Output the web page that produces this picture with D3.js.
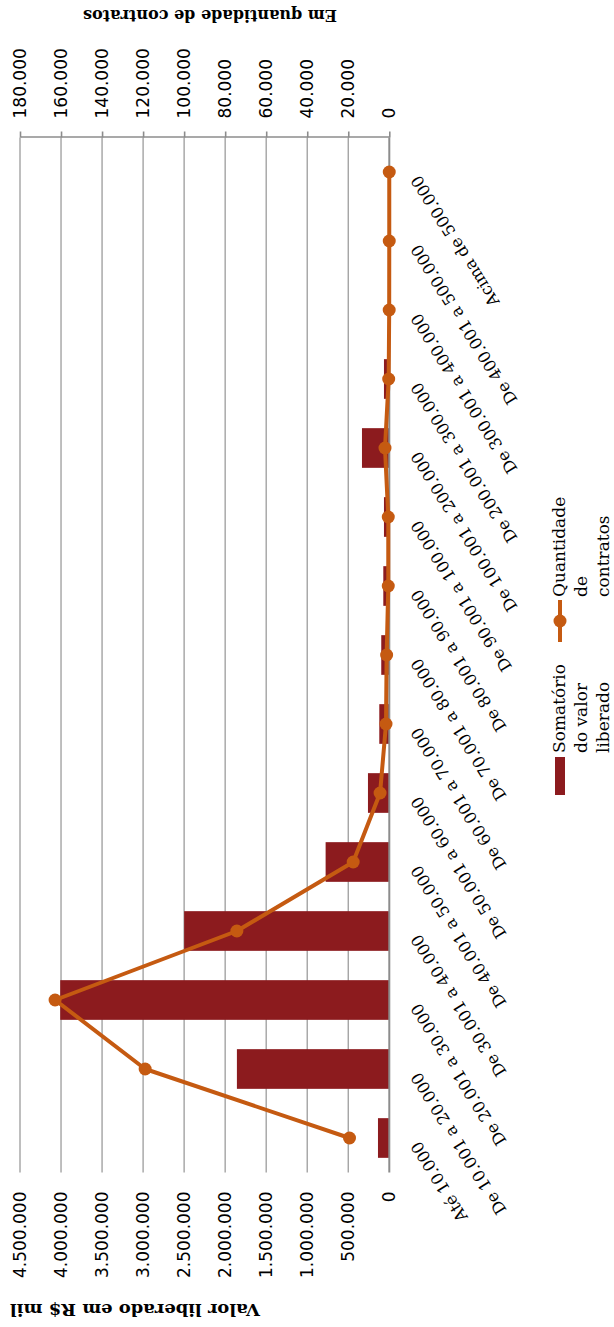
<!DOCTYPE html>
<html><head><meta charset="utf-8">
<script src="https://cdn.jsdelivr.net/npm/d3@7"></script>
<style>html,body{margin:0;padding:0;background:#fff;}svg{display:block;}</style>
</head><body>
<script>
const categories = ["Até 10.000","De 10.001 a 20.000","De 20.001 a 30.000","De 30.001 a 40.000","De 40.001 a 50.000","De 50.001 a 60.000","De 60.001 a 70.000","De 70.001 a 80.000","De 80.001 a 90.000","De 90.001 a 100.000","De 100.001 a 200.000","De 200.001 a 300.000","De 300.001 a 400.000","De 400.001 a 500.000","Acima de 500.000"];
const valorLiberado = [138000,1857000,4010000,2500000,776000,260000,122000,98000,73000,65000,333000,65000,3000,2000,3000];
const quantidadeContratos = [19400,119000,162900,74300,17600,4500,1600,1300,500,500,2100,300,50,20,20];
const leftTickValues = [0,500000,1000000,1500000,2000000,2500000,3000000,3500000,4000000,4500000];
const leftTickLabels = ["0","500.000","1.000.000","1.500.000","2.000.000","2.500.000","3.000.000","3.500.000","4.000.000","4.500.000"];
const rightTickValues = [0,20000,40000,60000,80000,100000,120000,140000,160000,180000];
const rightTickLabels = ["0","20.000","40.000","60.000","80.000","100.000","120.000","140.000","160.000","180.000"];
const seriesNames = ["Somatório do valor liberado","Quantidade de contratos"];
const leftTitle = "Valor liberado em R$ mil";
const rightTitle = "Em quantidade de contratos";

const W = 614, H = 1327;
// chart is laid out landscape (H wide, W tall) then rotated -90deg
const LW = H, LH = W;
const plot = {left:154.5, right:1189.5, top:20, bottom:389.3};
const barColor = "#8c1b1e", lineColor = "#c55a11";
const sans = "'DejaVu Sans', Arial, sans-serif";
const serif = "Georgia, 'DejaVu Serif', serif";

const svg = d3.select("body").append("svg").attr("width",W).attr("height",H);
const g = svg.append("g").attr("transform",`translate(0,${H}) rotate(-90)`);

const x = d3.scaleBand().domain(categories).range([plot.left,plot.right]).paddingInner(0.425).paddingOuter(0.2125);
const yL = d3.scaleLinear().domain([0,4500000]).range([plot.bottom,plot.top]);
const yR = d3.scaleLinear().domain([0,180000]).range([plot.bottom,plot.top]);
const cx = c => x(c) + x.bandwidth()/2;

// gridlines
g.append("g").selectAll("line").data(leftTickValues.filter(v=>v>0)).join("line")
  .attr("x1",plot.left).attr("x2",plot.right)
  .attr("y1",d=>yL(d)).attr("y2",d=>yL(d))
  .attr("stroke","#a3a3a3").attr("stroke-width",1.4);

// bars
g.append("g").selectAll("rect").data(categories).join("rect")
  .attr("x",c=>x(c)).attr("width",x.bandwidth())
  .attr("y",(c,i)=>yL(valorLiberado[i]))
  .attr("height",(c,i)=>yL(0)-yL(valorLiberado[i]))
  .attr("fill",barColor);

// category axis line
g.append("line").attr("x1",plot.left).attr("x2",plot.right)
  .attr("y1",yL(0)).attr("y2",yL(0)).attr("stroke","#8c8c8c").attr("stroke-width",2);

// left axis (value)
const axL = g.append("g").attr("transform",`translate(${plot.left},0)`)
  .call(d3.axisLeft(yL).tickValues(leftTickValues).tickFormat((d,i)=>leftTickLabels[i]).tickSize(0).tickPadding(19));
axL.select(".domain").remove();
axL.selectAll("text").attr("font-family",sans).attr("font-size",17).attr("fill","#000");

// right axis (quantity)
const axR = g.append("g").attr("transform",`translate(${plot.right},0)`)
  .call(d3.axisRight(yR).tickValues(rightTickValues).tickFormat((d,i)=>rightTickLabels[i]).tickSizeInner(6).tickSizeOuter(0).tickPadding(13));
axR.select(".domain").attr("stroke","#8c8c8c").attr("stroke-width",1.6);
axR.selectAll("line").attr("stroke","#8c8c8c").attr("stroke-width",1.6);
axR.selectAll("text").attr("font-family",sans).attr("font-size",17).attr("fill","#000");

// category labels
g.append("g").selectAll("text").data(categories).join("text")
  .attr("transform",c=>`translate(${cx(c)-2},420) rotate(-32)`)
  .attr("text-anchor","end").attr("font-family",serif).attr("font-size",16.5).attr("fill","#000")
  .text(c=>c);

// line + markers
const line = d3.line().x((d,i)=>cx(categories[i])).y(d=>yR(d));
g.append("path").datum(quantidadeContratos).attr("d",line)
  .attr("fill","none").attr("stroke",lineColor).attr("stroke-width",4).attr("stroke-linejoin","round");
g.append("g").selectAll("circle").data(quantidadeContratos).join("circle")
  .attr("cx",(d,i)=>cx(categories[i])).attr("cy",d=>yR(d)).attr("r",6.5).attr("fill",lineColor);

// axis titles
g.append("text").attr("transform","translate(23,135) rotate(-90)").attr("text-anchor","middle")
  .attr("font-family",serif).attr("font-weight","bold").attr("font-size",16)
  .attr("textLength",250).attr("lengthAdjust","spacingAndGlyphs").text(leftTitle);
g.append("text").attr("transform","translate(1317,210) rotate(-90)").attr("text-anchor","middle")
  .attr("font-family",serif).attr("font-weight","bold").attr("font-size",16)
  .attr("textLength",254).attr("lengthAdjust","spacingAndGlyphs").text(rightTitle);

// legend
const lg = g.append("g");
lg.append("rect").attr("x",532).attr("y",555).attr("width",38).attr("height",10).attr("fill",barColor);
const l1 = lg.append("text").attr("font-family",serif).attr("font-size",17).attr("fill","#000");
["Somatório","do valor","liberado"].forEach((t,i)=>l1.append("tspan").attr("x",574).attr("y",565+i*22).text(t));
lg.append("line").attr("x1",685).attr("x2",727).attr("y1",560).attr("y2",560).attr("stroke",lineColor).attr("stroke-width",4);
lg.append("circle").attr("cx",706).attr("cy",560).attr("r",6.5).attr("fill",lineColor);
const l2 = lg.append("text").attr("font-family",serif).attr("font-size",17).attr("fill","#000");
["Quantidade","de","contratos"].forEach((t,i)=>l2.append("tspan").attr("x",730).attr("y",565+i*22).text(t));
</script>
</body></html>
